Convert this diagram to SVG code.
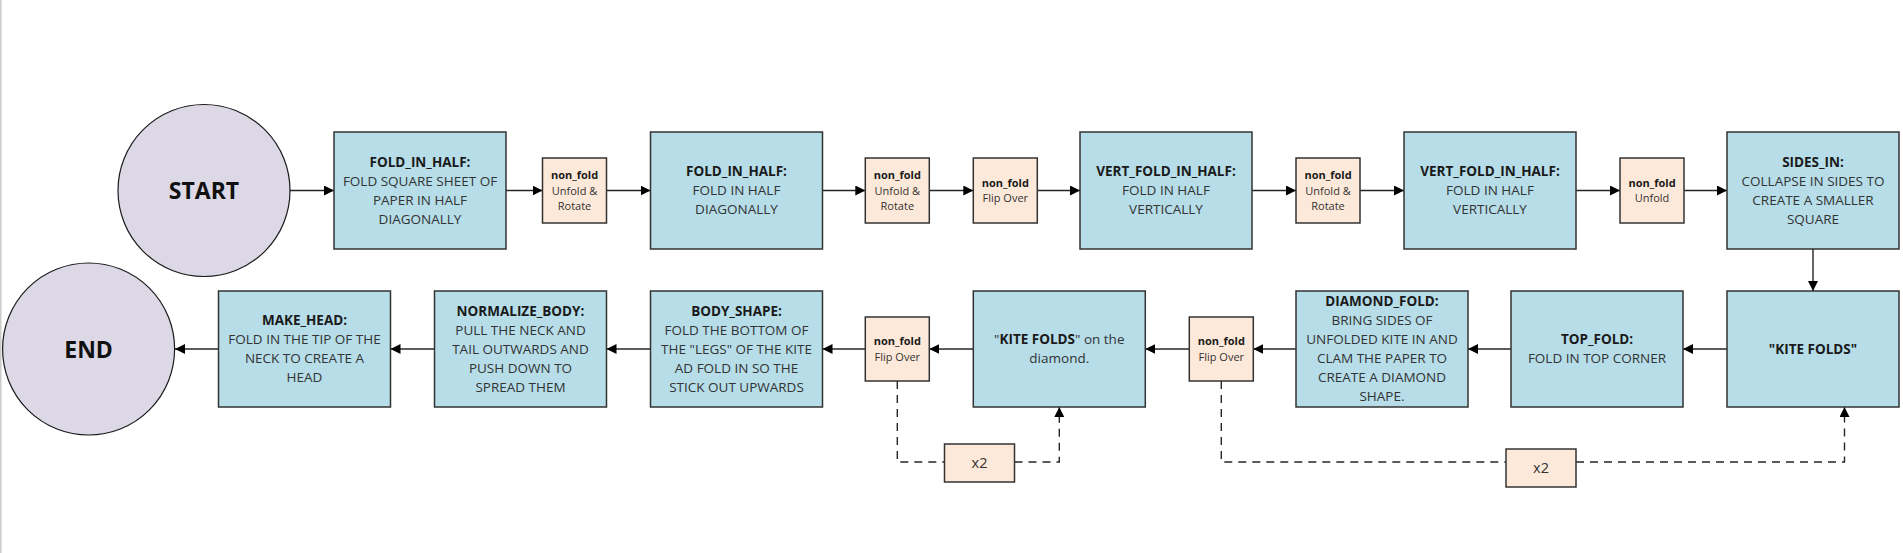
<svg xmlns="http://www.w3.org/2000/svg" width="1903" height="553" viewBox="0 0 1903 553">
<style>
.bg{fill:#ffffff}
.circ{fill:#dcd8e6;stroke:#1a1a1a;stroke-width:1.2}
.step{fill:#b6dde8;stroke:#333333;stroke-width:1.5}
.nf{fill:#fde9d9;stroke:#333333;stroke-width:1.5}
.t{font-family:"Open Sans","Noto Sans",sans-serif;font-size:13.5px;fill:#333333;text-anchor:middle}
.b{font-weight:bold;fill:#1a1a1a}
.s{font-family:"Open Sans","Noto Sans",sans-serif;font-size:11px;fill:#333333;text-anchor:middle}
.big{font-family:"Open Sans","Noto Sans",sans-serif;font-size:23px;font-weight:bold;fill:#111111;text-anchor:middle}
.x2{font-family:"Open Sans","Noto Sans",sans-serif;font-size:14.5px;fill:#333333;text-anchor:middle}
.c{fill:none;stroke:#262626;stroke-width:1.4}
.d{fill:none;stroke:#262626;stroke-width:1.4;stroke-dasharray:8 6}
</style>
<defs>
<marker id="arr" markerUnits="userSpaceOnUse" markerWidth="11" markerHeight="10" refX="10" refY="5" orient="auto">
<path d="M0,0 L10,5 L0,10 z" fill="#000000"/>
</marker>
</defs>
<rect class="bg" x="0" y="0" width="1903" height="553"/>
<rect x="0" y="0" width="1.5" height="553" fill="#cccccc"/>

<g id="connectors">
<line class="c" x1="290" y1="190.5" x2="334" y2="190.5" marker-end="url(#arr)"/>
<line class="c" x1="506" y1="190.5" x2="542.5" y2="190.5" marker-end="url(#arr)"/>
<line class="c" x1="606.5" y1="190.5" x2="650.5" y2="190.5" marker-end="url(#arr)"/>
<line class="c" x1="822.5" y1="190.5" x2="865.3" y2="190.5" marker-end="url(#arr)"/>
<line class="c" x1="929.3" y1="190.5" x2="973.3" y2="190.5" marker-end="url(#arr)"/>
<line class="c" x1="1037.3" y1="190.5" x2="1080" y2="190.5" marker-end="url(#arr)"/>
<line class="c" x1="1252" y1="190.5" x2="1296" y2="190.5" marker-end="url(#arr)"/>
<line class="c" x1="1360" y1="190.5" x2="1404" y2="190.5" marker-end="url(#arr)"/>
<line class="c" x1="1576" y1="190.5" x2="1620" y2="190.5" marker-end="url(#arr)"/>
<line class="c" x1="1684" y1="190.5" x2="1727" y2="190.5" marker-end="url(#arr)"/>
<line class="c" x1="1813" y1="249" x2="1813" y2="291" marker-end="url(#arr)"/>
<line class="c" x1="1727" y1="349" x2="1683" y2="349" marker-end="url(#arr)"/>
<line class="c" x1="1511" y1="349" x2="1468" y2="349" marker-end="url(#arr)"/>
<line class="c" x1="1296" y1="349" x2="1253.3" y2="349" marker-end="url(#arr)"/>
<line class="c" x1="1189.3" y1="349" x2="1145.3" y2="349" marker-end="url(#arr)"/>
<line class="c" x1="973.3" y1="349" x2="929.3" y2="349" marker-end="url(#arr)"/>
<line class="c" x1="865.3" y1="349" x2="822.5" y2="349" marker-end="url(#arr)"/>
<line class="c" x1="650.5" y1="349" x2="606.5" y2="349" marker-end="url(#arr)"/>
<line class="c" x1="434.5" y1="349" x2="390.5" y2="349" marker-end="url(#arr)"/>
<line class="c" x1="218.5" y1="349" x2="175" y2="349" marker-end="url(#arr)"/>
<path class="d" d="M897.3,381 V462 H944.5"/>
<path class="d" d="M1014.5,462 H1059.3 V407" marker-end="url(#arr)"/>
<path class="d" d="M1221.3,381 V462 H1506"/>
<path class="d" d="M1576,462 H1844.5 V407" marker-end="url(#arr)"/>
</g>

<g id="start">
<circle class="circ" cx="204" cy="190.5" r="86"/>
<text class="big" x="204" y="199">START</text>
</g>
<g id="end">
<circle class="circ" cx="88.6" cy="349" r="86"/>
<text class="big" x="88.6" y="357.5">END</text>
</g>

<g id="fold1">
<rect class="step" x="334" y="132" width="172" height="117"/>
<text class="t" x="420" y="167"><tspan class="b" x="420">FOLD_IN_HALF:</tspan><tspan x="420" dy="19">FOLD SQUARE SHEET OF</tspan><tspan x="420" dy="19">PAPER IN HALF</tspan><tspan x="420" dy="19">DIAGONALLY</tspan></text>
</g>
<g id="nf1">
<rect class="nf" x="542.5" y="158" width="64" height="65"/>
<text class="s" x="574.5" y="179"><tspan class="b" x="574.5">non_fold</tspan><tspan x="574.5" dy="15.5">Unfold &amp;</tspan><tspan x="574.5" dy="15.5">Rotate</tspan></text>
</g>
<g id="fold2">
<rect class="step" x="650.5" y="132" width="172" height="117"/>
<text class="t" x="736.5" y="176.3"><tspan class="b" x="736.5">FOLD_IN_HALF:</tspan><tspan x="736.5" dy="19">FOLD IN HALF</tspan><tspan x="736.5" dy="19">DIAGONALLY</tspan></text>
</g>
<g id="nf2">
<rect class="nf" x="865.3" y="158" width="64" height="65"/>
<text class="s" x="897.3" y="179"><tspan class="b" x="897.3">non_fold</tspan><tspan x="897.3" dy="15.5">Unfold &amp;</tspan><tspan x="897.3" dy="15.5">Rotate</tspan></text>
</g>
<g id="nf3">
<rect class="nf" x="973.3" y="158" width="64" height="65"/>
<text class="s" x="1005.3" y="186.7"><tspan class="b" x="1005.3">non_fold</tspan><tspan x="1005.3" dy="15.5">Flip Over</tspan></text>
</g>
<g id="vert1">
<rect class="step" x="1080" y="132" width="172" height="117"/>
<text class="t" x="1166" y="176.3"><tspan class="b" x="1166">VERT_FOLD_IN_HALF:</tspan><tspan x="1166" dy="19">FOLD IN HALF</tspan><tspan x="1166" dy="19">VERTICALLY</tspan></text>
</g>
<g id="nf4">
<rect class="nf" x="1296" y="158" width="64" height="65"/>
<text class="s" x="1328" y="179"><tspan class="b" x="1328">non_fold</tspan><tspan x="1328" dy="15.5">Unfold &amp;</tspan><tspan x="1328" dy="15.5">Rotate</tspan></text>
</g>
<g id="vert2">
<rect class="step" x="1404" y="132" width="172" height="117"/>
<text class="t" x="1490" y="176.3"><tspan class="b" x="1490">VERT_FOLD_IN_HALF:</tspan><tspan x="1490" dy="19">FOLD IN HALF</tspan><tspan x="1490" dy="19">VERTICALLY</tspan></text>
</g>
<g id="nf5">
<rect class="nf" x="1620" y="158" width="64" height="65"/>
<text class="s" x="1652" y="186.7"><tspan class="b" x="1652">non_fold</tspan><tspan x="1652" dy="15.5">Unfold</tspan></text>
</g>
<g id="sides_in">
<rect class="step" x="1727" y="132" width="172" height="117"/>
<text class="t" x="1813" y="167"><tspan class="b" x="1813">SIDES_IN:</tspan><tspan x="1813" dy="19">COLLAPSE IN SIDES TO</tspan><tspan x="1813" dy="19">CREATE A SMALLER</tspan><tspan x="1813" dy="19">SQUARE</tspan></text>
</g>

<g id="kite_folds">
<rect class="step" x="1727" y="291" width="172" height="116"/>
<text class="t b" x="1813" y="353.8">"KITE FOLDS"</text>
</g>
<g id="top_fold">
<rect class="step" x="1511" y="291" width="172" height="116"/>
<text class="t" x="1597" y="344.3"><tspan class="b" x="1597">TOP_FOLD:</tspan><tspan x="1597" dy="19">FOLD IN TOP CORNER</tspan></text>
</g>
<g id="diamond_fold">
<rect class="step" x="1296" y="291" width="172" height="116"/>
<text class="t" x="1382" y="306.3"><tspan class="b" x="1382">DIAMOND_FOLD:</tspan><tspan x="1382" dy="19">BRING SIDES OF</tspan><tspan x="1382" dy="19">UNFOLDED KITE IN AND</tspan><tspan x="1382" dy="19">CLAM THE PAPER TO</tspan><tspan x="1382" dy="19">CREATE A DIAMOND</tspan><tspan x="1382" dy="19">SHAPE.</tspan></text>
</g>
<g id="nf6">
<rect class="nf" x="1189.3" y="317" width="64" height="64"/>
<text class="s" x="1221.3" y="345.2"><tspan class="b" x="1221.3">non_fold</tspan><tspan x="1221.3" dy="15.5">Flip Over</tspan></text>
</g>
<g id="kite_diamond">
<rect class="step" x="973.3" y="291" width="172" height="116"/>
<text class="t" x="1059.3" y="344.3"><tspan x="1059.3">"<tspan class="b">KITE FOLDS</tspan>" on the</tspan><tspan x="1059.3" dy="19">diamond.</tspan></text>
</g>
<g id="nf7">
<rect class="nf" x="865.3" y="317" width="64" height="64"/>
<text class="s" x="897.3" y="345.2"><tspan class="b" x="897.3">non_fold</tspan><tspan x="897.3" dy="15.5">Flip Over</tspan></text>
</g>
<g id="body_shape">
<rect class="step" x="650.5" y="291" width="172" height="116"/>
<text class="t" x="736.5" y="315.8"><tspan class="b" x="736.5">BODY_SHAPE:</tspan><tspan x="736.5" dy="19">FOLD THE BOTTOM OF</tspan><tspan x="736.5" dy="19">THE "LEGS" OF THE KITE</tspan><tspan x="736.5" dy="19">AD FOLD IN SO THE</tspan><tspan x="736.5" dy="19">STICK OUT UPWARDS</tspan></text>
</g>
<g id="normalize_body">
<rect class="step" x="434.5" y="291" width="172" height="116"/>
<text class="t" x="520.5" y="315.8"><tspan class="b" x="520.5">NORMALIZE_BODY:</tspan><tspan x="520.5" dy="19">PULL THE NECK AND</tspan><tspan x="520.5" dy="19">TAIL OUTWARDS AND</tspan><tspan x="520.5" dy="19">PUSH DOWN TO</tspan><tspan x="520.5" dy="19">SPREAD THEM</tspan></text>
</g>
<g id="make_head">
<rect class="step" x="218.5" y="291" width="172" height="116"/>
<text class="t" x="304.5" y="325.3"><tspan class="b" x="304.5">MAKE_HEAD:</tspan><tspan x="304.5" dy="19">FOLD IN THE TIP OF THE</tspan><tspan x="304.5" dy="19">NECK TO CREATE A</tspan><tspan x="304.5" dy="19">HEAD</tspan></text>
</g>

<g id="x2_a">
<rect class="nf" x="944.5" y="444" width="70" height="38"/>
<text class="x2" x="979.5" y="468">x2</text>
</g>
<g id="x2_b">
<rect class="nf" x="1506" y="449" width="70" height="38"/>
<text class="x2" x="1541" y="473">x2</text>
</g>
</svg>
